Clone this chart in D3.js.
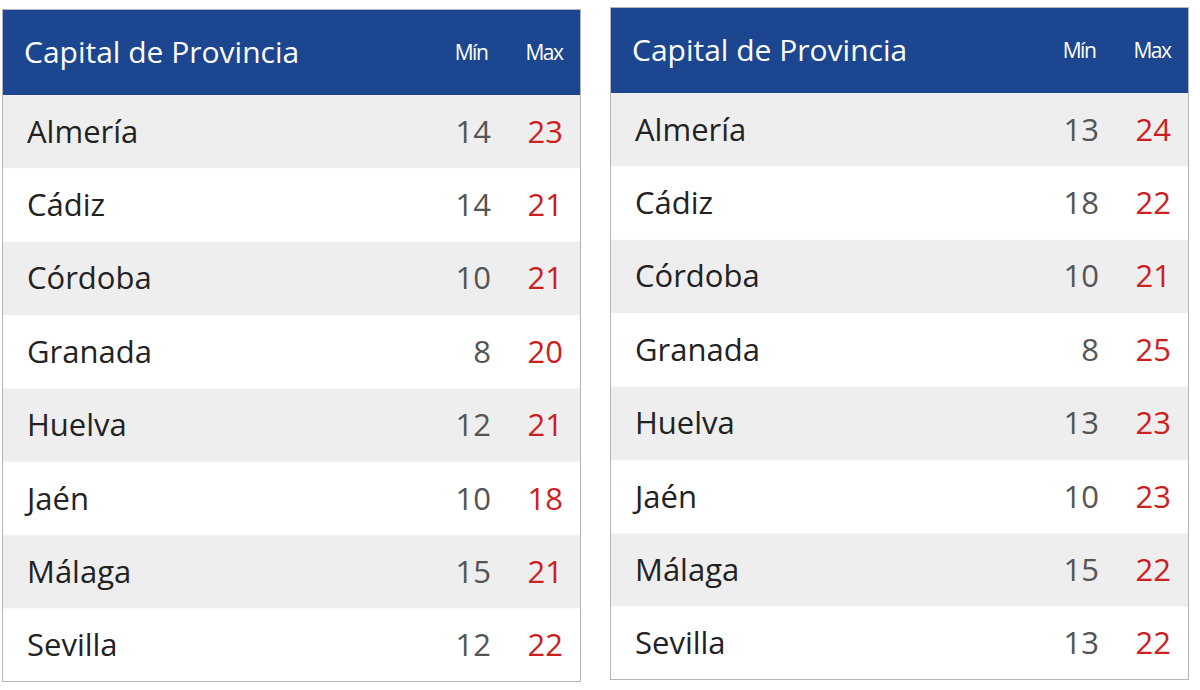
<!DOCTYPE html>
<html><head><meta charset="utf-8">
<script src="https://cdn.jsdelivr.net/npm/d3@7"></script>
<style>body{margin:0;background:#fff}svg{display:block}</style></head>
<body><svg id="c" width="1200" height="690"></svg>
<script>
const cities = ["Almería","Cádiz","Córdoba","Granada","Huelva","Jaén","Málaga","Sevilla"];
const min1 = [14,14,10,8,12,10,15,12];
const max1 = [23,21,21,20,21,18,21,22];
const min2 = [13,18,10,8,13,10,15,13];
const max2 = [24,22,21,25,23,23,22,22];
const headers = ["Capital de Provincia","Mín","Max"];

const svg = d3.select("#c");
const font = "'Open Sans', sans-serif";
function table(x0, y0, w, mins, maxs){
  const g = svg.append("g").attr("transform",`translate(${x0},${y0})`);
  const hh = 86, rowsH = 587;
  const y = d3.scaleBand().domain(cities).range([hh, hh+rowsH]);
  g.append("rect").attr("width",w).attr("height",hh).attr("fill","#1c4690");
  g.selectAll("rect.row").data(cities).join("rect").attr("class","row")
    .attr("y",d=>y(d)).attr("width",w).attr("height",y.bandwidth())
    .attr("fill",(d,i)=>i%2===0?"#eeeeee":"#ffffff");
  g.append("rect").attr("x",0.5).attr("y",0.5).attr("width",w-1).attr("height",hh+rowsH-1)
    .attr("fill","none").attr("stroke","#b5b5b5");
  g.append("text").attr("x",22).attr("y",hh/2+11).attr("fill","#fff")
    .attr("font-family",font).attr("font-size",30).text(headers[0]);
  g.append("text").attr("x",w-110).attr("y",hh/2+8).attr("fill","#fff").attr("text-anchor","middle")
    .attr("font-family",font).attr("font-size",21).attr("letter-spacing",-1.5).text(headers[1]);
  g.append("text").attr("x",w-37).attr("y",hh/2+8).attr("fill","#fff").attr("text-anchor","middle")
    .attr("font-family",font).attr("font-size",21).attr("letter-spacing",-1.5).text(headers[2]);
  const cy = d=>y(d)+y.bandwidth()/2+11;
  g.selectAll("text.n").data(cities).join("text").attr("class","n")
    .attr("x",25).attr("y",cy).attr("fill","#222").attr("font-family",font).attr("font-size",31).text(d=>d);
  g.selectAll("text.mn").data(cities).join("text").attr("class","mn")
    .attr("x",w-90).attr("y",cy).attr("text-anchor","end").attr("fill","#555").attr("font-family",font).attr("font-size",31)
    .text((d,i)=>mins[i]);
  g.selectAll("text.mx").data(cities).join("text").attr("class","mx")
    .attr("x",w-18).attr("y",cy).attr("text-anchor","end").attr("fill","#cc1f1f").attr("font-family",font).attr("font-size",31)
    .text((d,i)=>maxs[i]);
}
table(2,9,579,min1,max1);
table(610,7,579,min2,max2);
</script></body></html>
